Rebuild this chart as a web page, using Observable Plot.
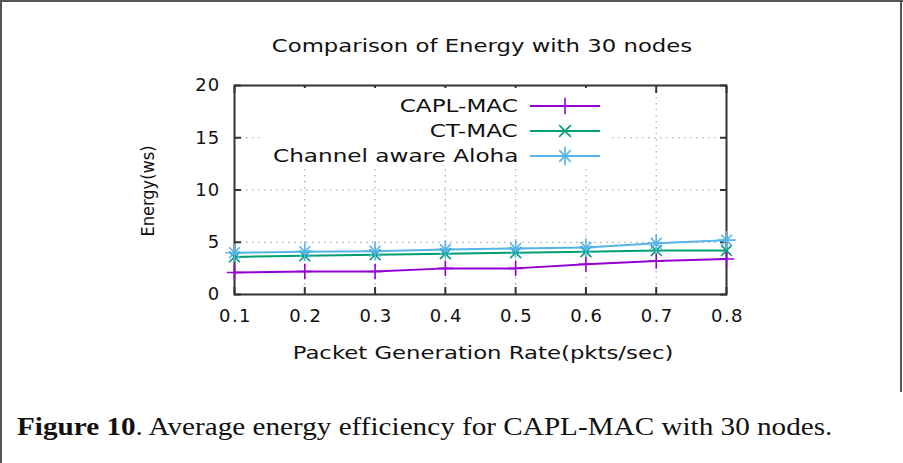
<!DOCTYPE html>
<html>
<head>
<meta charset="utf-8">
<script src="https://cdn.jsdelivr.net/npm/d3@7"></script>
<script src="https://cdn.jsdelivr.net/npm/@observablehq/plot@0.6"></script>
<style>
  html, body { margin: 0; padding: 0; background: #fff; }
  #wrap { position: relative; width: 903px; height: 463px; overflow: hidden; background: #fff; }
  .bd { position: absolute; background: #555; }
  #title { position: absolute; top: 36px; left: 236px; width: 492px; text-align: center;
    font-family: "DejaVu Sans", sans-serif; font-size: 17px; color: #111; white-space: nowrap;
    transform: scaleX(1.34); transform-origin: center; }
  #ylab { position: absolute; left: 147px; top: 191px; transform: translate(-50%, -50%) rotate(-90deg);
    font-family: "DejaVu Sans Condensed", "DejaVu Sans", sans-serif; font-size: 18px; color: #111; white-space: nowrap; }
  #xlab { position: absolute; top: 343px; left: 237px; width: 492px; text-align: center;
    font-family: "DejaVu Sans", sans-serif; font-size: 17px; color: #111; white-space: nowrap;
    transform: scaleX(1.34); transform-origin: center; }
  #caption { position: absolute; top: 413px; left: 17px; font-family: "Liberation Serif", "Times New Roman", serif;
    font-size: 25px; color: #111; white-space: nowrap; transform: scaleX(1.167); transform-origin: left center; }
  #legend { position: absolute; left: 262px; top: 88px; width: 350px; height: 80px; background: #fff; }
  .lrow { position: absolute; right: 12px; height: 25px; display: flex; align-items: center; }
  .ltext { display: inline-block; font-family: "DejaVu Sans", sans-serif; font-size: 17px; color: #111; margin-right: 12px; white-space: nowrap;
    transform: scaleX(1.36); transform-origin: right center; }
  #chart { position: absolute; left: 0; top: 60px; }
  #chart g[aria-label="x-axis tick label"] text { letter-spacing: 1.5px; font-size: 18px; }
  #chart g[aria-label="y-axis tick label"] text { letter-spacing: 1.2px; font-size: 18px; }
</style>
</head>
<body>
<div id="wrap">
  <div class="bd" style="left:0;top:0;width:903px;height:2px"></div>
  <div class="bd" style="left:0;top:0;width:2px;height:463px"></div>
  <div class="bd" style="left:900px;top:0;width:2px;height:392px"></div>
  <div id="title">Comparison of Energy with 30 nodes</div>
  <div id="chart"></div>
  <div id="ylab">Energy(ws)</div>
  <div id="xlab">Packet Generation Rate(pkts/sec)</div>
  <div id="legend"></div>
  <div id="caption"><b>Figure 10</b>. Average energy efficiency for CAPL-MAC with 30 nodes.</div>
</div>
<script>
const rates = [0.1, 0.2, 0.3, 0.4, 0.5, 0.6, 0.7, 0.8];
const caplMac = [2.1, 2.2, 2.2, 2.5, 2.5, 2.9, 3.2, 3.4];
const ctMac = [3.6, 3.7, 3.8, 3.9, 4.0, 4.1, 4.2, 4.2];
const aloha = [4.0, 4.1, 4.15, 4.3, 4.4, 4.5, 4.9, 5.2];
const seriesNames = ["CAPL-MAC", "CT-MAC", "Channel aware Aloha"];
const seriesColors = ["#9400D3", "#009E73", "#56B4E9"];
const xTicks = [0.1, 0.2, 0.3, 0.4, 0.5, 0.6, 0.7, 0.8];
const yTicks = [0, 5, 10, 15, 20];

const values = [caplMac, ctMac, aloha];
const data = [];
values.forEach((vals, si) => vals.forEach((v, i) => data.push({series: seriesNames[si], x: rates[i], y: v})));
const bySeries = name => data.filter(d => d.series === name);

const chart = Plot.plot({
  width: 903,
  height: 320,
  marginLeft: 234,
  marginRight: 177,
  marginTop: 25,
  marginBottom: 86,
  style: {fontFamily: "DejaVu Sans, sans-serif", fontSize: "17px", color: "#111", background: "transparent"},
  x: {domain: [0.1, 0.8], ticks: xTicks, label: null},
  y: {domain: [0, 20], ticks: yTicks, label: null},
  color: {domain: seriesNames, range: seriesColors},
  marks: [
    Plot.gridX(xTicks, {stroke: "#999", strokeOpacity: 1, strokeDasharray: "1.5,4.5"}),
    Plot.gridY(yTicks, {stroke: "#999", strokeOpacity: 1, strokeDasharray: "1.5,4.5"}),
    Plot.axisX(xTicks, {tickSize: -7, text: null, stroke: "#333", strokeWidth: 2, label: null}),
    Plot.axisX(xTicks, {anchor: "top", tickSize: -7, text: null, stroke: "#333", strokeWidth: 2, label: null}),
    Plot.axisY(yTicks, {tickSize: -7, text: null, stroke: "#333", strokeWidth: 2, label: null}),
    Plot.axisY(yTicks, {anchor: "right", tickSize: -7, text: null, stroke: "#333", strokeWidth: 2, label: null}),
    Plot.axisX(xTicks, {tickSize: 0, tickPadding: 15, label: null, tickFormat: d3.format(".1f"), fill: "#111", dx: 1}),
    Plot.axisY(yTicks, {tickSize: 0, tickPadding: 14, label: null, fill: "#111"}),
    Plot.frame({stroke: "#333", strokeWidth: 2}),
    ...seriesNames.map(name => Plot.line(bySeries(name), {x: "x", y: "y", stroke: "series", strokeWidth: 2})),
    Plot.dot(bySeries("CAPL-MAC"), {x: "x", y: "y", stroke: "series", symbol: "plus", r: 5, strokeWidth: 1.6}),
    Plot.dot(bySeries("CT-MAC"), {x: "x", y: "y", stroke: "series", symbol: "times", r: 5, strokeWidth: 1.6}),
    Plot.dot(bySeries("Channel aware Aloha"), {x: "x", y: "y", stroke: "series", symbol: "plus", r: 6, strokeWidth: 1.6}),
    Plot.dot(bySeries("Channel aware Aloha"), {x: "x", y: "y", stroke: "series", symbol: "times", r: 5, strokeWidth: 1.6})
  ]
});
document.getElementById("chart").appendChild(chart);

// legend
const legend = document.getElementById("legend");
const symbolPaths = [
  [d3.symbol(d3.symbolPlus, 90)()],
  [d3.symbol(d3.symbolTimes, 90)()],
  [d3.symbol(d3.symbolPlus, 120)(), d3.symbol(d3.symbolTimes, 90)()]
];
seriesNames.forEach((name, i) => {
  const row = document.createElement("div");
  row.className = "lrow";
  row.style.top = (5 + i * 25) + "px";
  const t = document.createElement("span");
  t.className = "ltext";
  t.textContent = name;
  row.appendChild(t);
  const svg = d3.create("svg").attr("width", 70).attr("height", 20);
  svg.append("line").attr("x1", 0).attr("x2", 70).attr("y1", 10).attr("y2", 10)
    .attr("stroke", seriesColors[i]).attr("stroke-width", 2);
  symbolPaths[i].forEach(p => svg.append("path").attr("d", p).attr("transform", "translate(35,10)")
    .attr("fill", "none").attr("stroke", seriesColors[i]).attr("stroke-width", 1.6));
  row.appendChild(svg.node());
  legend.appendChild(row);
});
</script>
</body>
</html>
